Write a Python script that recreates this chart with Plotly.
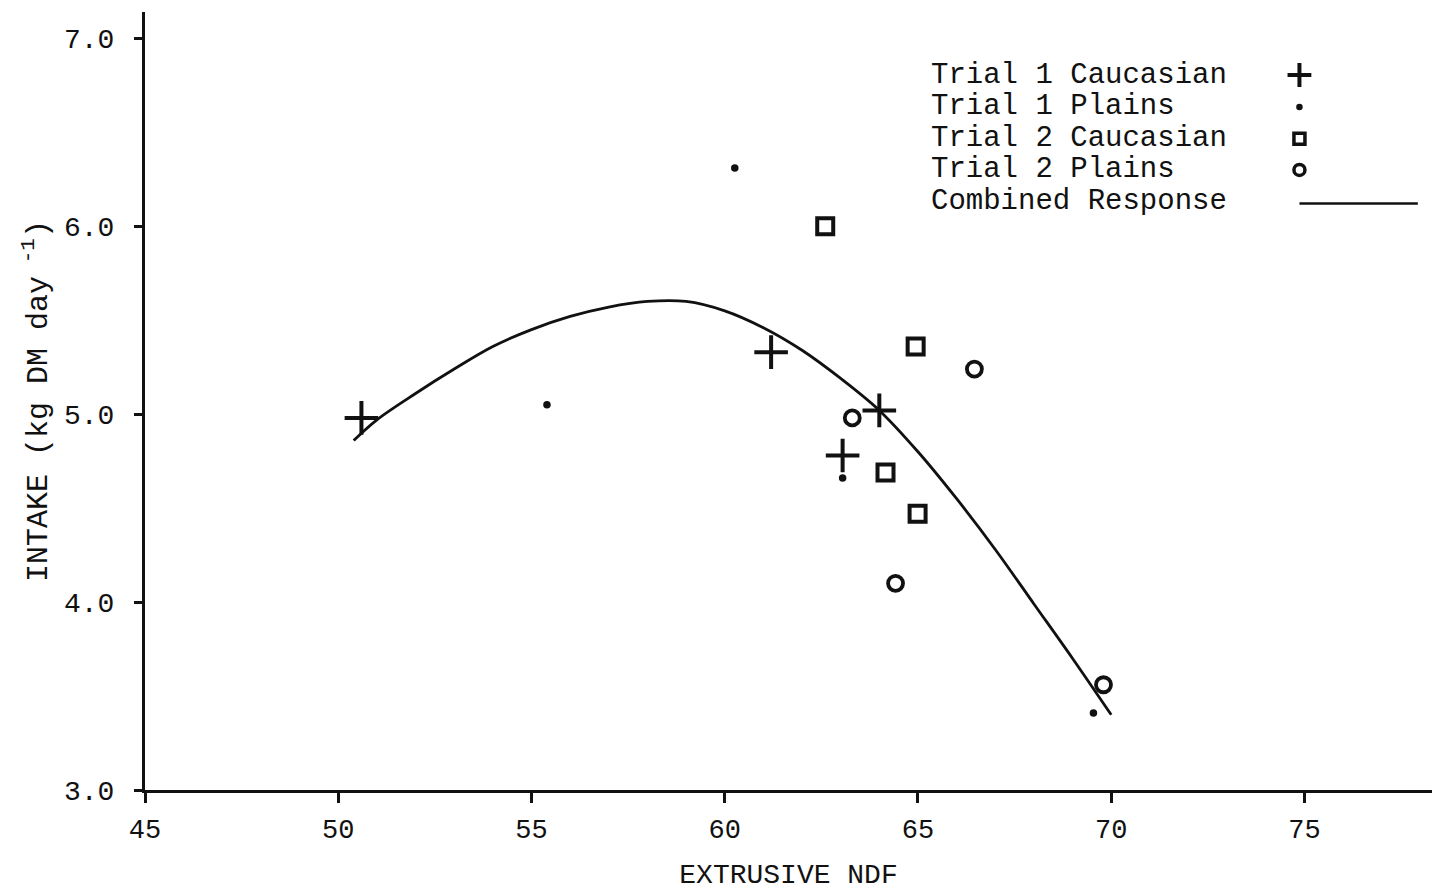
import plotly.graph_objects as go

# Data
t1_cauc_x = [50.6, 61.2, 63.05, 64.0]
t1_cauc_y = [4.98, 5.33, 4.78, 5.02]

t1_plains_x = [60.26, 55.4, 63.05, 69.54]
t1_plains_y = [6.31, 5.05, 4.66, 3.41]

t2_cauc_x = [62.6, 64.94, 64.16, 64.99]
t2_cauc_y = [6.0, 5.36, 4.69, 4.47]

t2_plains_x = [66.46, 63.3, 64.42, 69.8]
t2_plains_y = [5.24, 4.98, 4.10, 3.56]

curve_x = [50.4, 51, 52, 53, 54, 55, 56, 57, 58, 59, 60, 61, 62, 63, 64, 65, 66, 67, 68, 69, 70.0]
curve_y = [4.86, 4.97, 5.11, 5.24, 5.36, 5.45, 5.52, 5.57, 5.60, 5.60, 5.55, 5.46, 5.34, 5.19,
           5.02, 4.80, 4.55, 4.28, 3.99, 3.70, 3.40]

legend_labels = ["Trial 1 Caucasian", "Trial 1 Plains", "Trial 2 Caucasian",
                 "Trial 2 Plains", "Combined Response"]

x_ticks = [45, 50, 55, 60, 65, 70, 75]
y_ticks = [3.0, 4.0, 5.0, 6.0, 7.0]

FONT = "Liberation Mono, Courier New, monospace"
INK = "#111111"

plus_marker = dict(symbol="cross-thin", size=24, line=dict(width=4, color=INK), color=INK)
dot_marker = dict(symbol="circle", size=7.5, color=INK)
sq_marker = dict(symbol="square-open", size=16, line=dict(width=4, color=INK), color=INK)
circ_marker = dict(symbol="circle-open", size=15, line=dict(width=3.8, color=INK), color=INK)

fig = go.Figure()
fig.add_trace(go.Scatter(x=curve_x, y=curve_y, mode="lines", line=dict(color=INK, width=2.8, shape="spline"),
                         name=legend_labels[4], showlegend=False))
fig.add_trace(go.Scatter(x=t1_cauc_x, y=t1_cauc_y, mode="markers", marker=plus_marker,
                         name=legend_labels[0], showlegend=False))
fig.add_trace(go.Scatter(x=t1_plains_x, y=t1_plains_y, mode="markers", marker=dot_marker,
                         name=legend_labels[1], showlegend=False))
fig.add_trace(go.Scatter(x=t2_cauc_x, y=t2_cauc_y, mode="markers", marker=sq_marker,
                         name=legend_labels[2], showlegend=False))
fig.add_trace(go.Scatter(x=t2_plains_x, y=t2_plains_y, mode="markers", marker=circ_marker,
                         name=legend_labels[3], showlegend=False))

# Custom legend (symbols to the right of the text) drawn on an overlay axis in paper units
leg_y = [0.919, 0.878, 0.837, 0.797, 0.757]
sym_x = 0.897
fig.add_trace(go.Scatter(x=[sym_x], y=[leg_y[0]], xaxis="x2", yaxis="y2", mode="markers",
                         marker=dict(symbol="cross-thin", size=17, color=INK, line=dict(width=4, color=INK)),
                         showlegend=False, hoverinfo="skip"))
fig.add_trace(go.Scatter(x=[sym_x], y=[leg_y[1]], xaxis="x2", yaxis="y2", mode="markers",
                         marker=dict(symbol="circle", size=6.5, color=INK), showlegend=False, hoverinfo="skip"))
fig.add_trace(go.Scatter(x=[sym_x], y=[leg_y[2]], xaxis="x2", yaxis="y2", mode="markers",
                         marker=dict(symbol="square-open", size=11, color=INK, line=dict(width=3.5, color=INK)),
                         showlegend=False, hoverinfo="skip"))
fig.add_trace(go.Scatter(x=[sym_x], y=[leg_y[3]], xaxis="x2", yaxis="y2", mode="markers",
                         marker=dict(symbol="circle-open", size=11, color=INK, line=dict(width=3.5, color=INK)),
                         showlegend=False, hoverinfo="skip"))
fig.add_trace(go.Scatter(x=[0.897, 0.989], y=[leg_y[4] - 0.003, leg_y[4] - 0.003], xaxis="x2", yaxis="y2",
                         mode="lines", line=dict(color=INK, width=2.5), showlegend=False, hoverinfo="skip"))

annotations = []
for lbl, yy in zip(legend_labels, leg_y):
    annotations.append(dict(x=0.609, y=yy, xref="x2", yref="y2", text=lbl, showarrow=False,
                            xanchor="left", yanchor="middle",
                            font=dict(family=FONT, size=29, color=INK)))

fig.update_layout(
    width=1437, height=891,
    margin=dict(l=145, r=5, t=12, b=101),
    paper_bgcolor="white", plot_bgcolor="white",
    font=dict(family=FONT, color=INK),
    xaxis=dict(range=[45, 78.3], tickvals=x_ticks, ticktext=[str(v) for v in x_ticks],
               automargin=False,
               showgrid=False, zeroline=False, showline=True, linecolor=INK, linewidth=3,
               ticks="outside", ticklen=10, tickwidth=2.5, tickcolor=INK,
               tickfont=dict(family=FONT, size=27, color=INK), ticklabelstandoff=3,
               title=dict(text="EXTRUSIVE NDF", font=dict(family=FONT, size=28, color=INK), standoff=20)),
    yaxis=dict(range=[3.0, 7.14], tickvals=y_ticks, tickformat=".1f",
               automargin=False,
               showgrid=False, zeroline=False, showline=True, linecolor=INK, linewidth=3,
               ticks="outside", ticklen=8, tickwidth=2.5, tickcolor=INK,
               tickfont=dict(family=FONT, size=28, color=INK), ticklabelstandoff=14,
               title=dict(text="INTAKE (kg DM day<sup> -1</sup>)", font=dict(family=FONT, size=30, color=INK),
                          standoff=8)),
    xaxis2=dict(range=[0, 1], domain=[0, 1], overlaying="x", visible=False, fixedrange=True),
    yaxis2=dict(range=[0, 1], domain=[0, 1], overlaying="y", visible=False, fixedrange=True),
    annotations=annotations,
    showlegend=False,
)

fig.write_html("out.html")
